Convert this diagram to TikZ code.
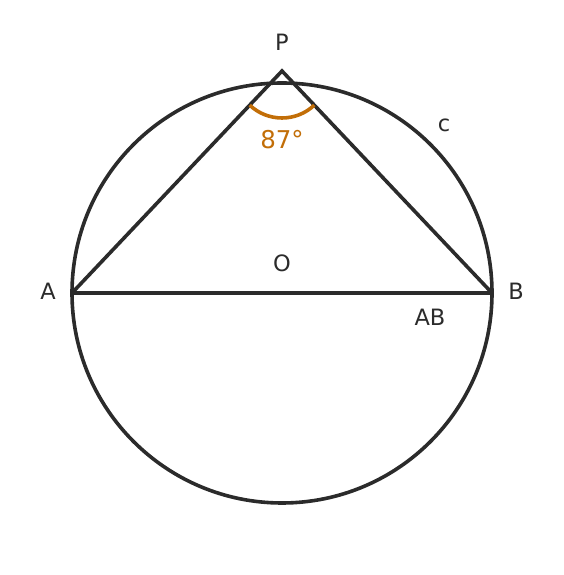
\documentclass[tikz,border=0pt]{standalone}
\usepackage{fontspec}
\setmainfont{DejaVu Sans}
\usepackage{tikz}
\usetikzlibrary{calc}
\definecolor{ink}{RGB}{43,43,43}
\definecolor{arcorange}{RGB}{194,110,8}
\tikzstyle{edge} = [draw=ink, line width=3.6pt, line join=miter]
\tikzstyle{lbl} = [text=ink, inner sep=0pt, font=\fontsize{22.5}{26}\selectfont]
\tikzstyle{anglearc} = [draw=arcorange, line width=3.6pt]
\begin{document}
\begin{tikzpicture}[x=1pt, y=1pt]
        \useasboundingbox (0,0) rectangle (564,575);
        % Place points
        \coordinate (O) at (282,282);
        \coordinate (A) at (72,282);
        \coordinate (B) at (492,282);
        \coordinate (P) at (282,504);

        % Labels
        \node [lbl] (lP) at (282,533) {P};
        \node [lbl] (lA) at (48,284) {A};
        \node [lbl] (lB) at (516,284) {B};
        \node [lbl] (lO) at (282,312) {O};
        \node [lbl] (lAB) at (430,258) {AB};
        \node [lbl] (lc) at (444,450) {c};
        \node [lbl, text=arcorange, font=\fontsize{24.5}{28}\selectfont] (lang) at (282,435) {87°};

        % Draw circle and triangle
        \path [edge] (O) circle (210pt);
        \path [edge] (A) -- (P) -- (B);
        \path [edge] (A) -- (B);
        \draw [anglearc] ([shift={(226.6:47pt)}]P) arc (226.6:313.4:47pt);
\end{tikzpicture}
\end{document}
